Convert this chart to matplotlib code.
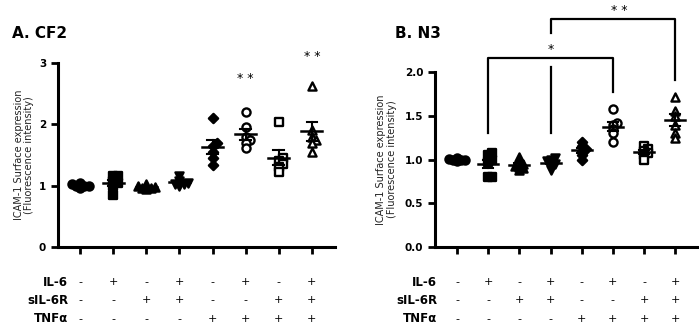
import numpy as np
import matplotlib.pyplot as plt
from matplotlib.transforms import blended_transform_factory

# ---- data ----
rows = ["IL-6", "sIL-6R", "TNF\u03b1"]
il6 = ["-", "+", "-", "+", "-", "+", "-", "+"]
sil6r = ["-", "-", "+", "+", "-", "-", "+", "+"]
tnfa = ["-", "-", "-", "-", "+", "+", "+", "+"]

cf2 = [
    [0.97, 0.99, 1.0, 1.0, 1.02, 1.05],
    [1.15, 1.15, 0.85, 1.0, 1.05, 1.08],
    [0.95, 0.97, 0.98, 1.0, 1.03, 0.96],
    [1.0, 1.03, 1.05, 1.08, 1.15, 1.02],
    [2.1, 1.7, 1.65, 1.55, 1.45, 1.33],
    [2.2, 1.95, 1.8, 1.75, 1.7, 1.62],
    [2.03, 1.45, 1.4, 1.35, 1.3, 1.22],
    [2.62, 1.9, 1.8, 1.75, 1.7, 1.55],
]
n3 = [
    [0.98, 1.0, 1.0, 1.01, 1.02, 0.99],
    [1.08, 1.05, 0.97, 0.8, 0.8, 1.0],
    [1.03, 0.95, 0.92, 0.9, 0.88, 0.93],
    [1.02, 0.98, 0.95, 0.95, 0.88, 1.0],
    [1.2, 1.15, 1.12, 1.1, 1.05, 1.0],
    [1.58, 1.42, 1.4, 1.35, 1.3, 1.2],
    [1.15, 1.12, 1.1, 1.08, 1.05, 1.0],
    [1.72, 1.55, 1.5, 1.4, 1.3, 1.25],
]

markers = ["o", "s", "^", "v", "D", "o", "s", "^"]
filled = [True, True, True, True, True, False, False, False]


def swarm(vals, ytol, step=0.13):
    """simple deterministic beeswarm offsets"""
    placed = []
    offs = [0.0] * len(vals)
    for i in np.argsort(vals):
        for k in [0, 1, -1, 2, -2]:
            dx = k * step
            if all(abs(dx - px) >= step * 0.9 or abs(vals[i] - py) >= ytol
                   for px, py in placed):
                break
        offs[i] = dx
        placed.append((dx, vals[i]))
    return offs


def draw_panel(ax, data, ytol):
    x = np.arange(1, 9)
    for i, vals in enumerate(data):
        vals = np.array(vals)
        offs = swarm(vals, ytol)
        fc = "black" if filled[i] else "white"
        ax.scatter(x[i] + np.array(offs), vals, marker=markers[i], s=34 if markers[i] != "D" else 22,
                   facecolor=fc, edgecolor="black", linewidth=1.7, zorder=3, clip_on=False)
        m = vals.mean()
        sem = vals.std(ddof=1) / np.sqrt(len(vals))
        ax.plot([x[i] - 0.32, x[i] + 0.32], [m, m], color="black", lw=1.8, zorder=4)
        ax.plot([x[i], x[i]], [m - sem, m + sem], color="black", lw=1.5, zorder=4)
        for yy in (m - sem, m + sem):
            ax.plot([x[i] - 0.16, x[i] + 0.16], [yy, yy], color="black", lw=1.5, zorder=4)
    ax.set_xticks(x)
    ax.set_xticklabels([])
    for s in ("top", "right"):
        ax.spines[s].set_visible(False)
    for s in ("left", "bottom"):
        ax.spines[s].set_linewidth(2.2)
    ax.tick_params(width=2, length=5, labelsize=7.5)
    ax.set_ylabel("ICAM-1 Surface expression\n(Fluorescence intensity)", fontsize=7,
                  color="#222222", linespacing=1.1)


def draw_table(ax, label_x):
    tr = blended_transform_factory(ax.transData, fig.transFigure)
    for r, (name, signs) in enumerate(zip(rows, [il6, sil6r, tnfa])):
        y = 1 - [282, 300, 319][r] / 326
        fig.text(label_x, y, name, ha="right", va="center", fontsize=8.5, fontweight="bold")
        for i, s in enumerate(signs):
            ax.text(i + 1, y, s, transform=tr, ha="center", va="center", fontsize=8)


fig = plt.figure(figsize=(6.99, 3.26), dpi=100)
axA = fig.add_axes([58 / 699, 1 - 247 / 326, 277 / 699, 184 / 326])
axB = fig.add_axes([435 / 699, 1 - 247 / 326, 262 / 699, 175 / 326])

draw_panel(axA, cf2, 0.06)
axA.set_ylim(0, 3)
axA.set_yticks([0, 1, 2, 3])
axA.set_xlim(0.33, 8.7)
axA.yaxis.set_label_coords(-0.085, 0.5)

draw_panel(axB, n3, 0.04)
axB.set_ylim(0, 2.0)
axB.set_yticks([0, 0.5, 1.0, 1.5, 2.0])
axB.set_yticklabels(["0.0", "0.5", "1.0", "1.5", "2.0"])
axB.set_xlim(0.29, 8.7)
axB.yaxis.set_label_coords(-0.145, 0.5)

for ax in (axA, axB):
    for t in ax.get_yticklabels():
        t.set_fontweight("bold")

draw_table(axA, 68 / 699)
draw_table(axB, 437 / 699)

fig.text(12 / 699, 1 - 33 / 326, "A. CF2", fontsize=11, fontweight="bold", va="center")
fig.text(395 / 699, 1 - 33 / 326, "B. N3", fontsize=11, fontweight="bold", va="center")

# significance marks
axA.text(6, 2.74, "* *", ha="center", va="center", fontsize=9, clip_on=False)
axA.text(8, 3.1, "* *", ha="center", va="center", fontsize=9, clip_on=False)

kw = dict(color="black", lw=1.6, clip_on=False)
axB.plot([2, 2, 6, 6], [1.30, 2.16, 2.16, 1.77], **kw)
axB.plot([4, 4], [1.30, 2.06], **kw)
axB.text(4, 2.26, "*", ha="center", va="center", fontsize=9, clip_on=False)
axB.plot([4, 4, 8, 8], [2.45, 2.61, 2.61, 1.91], **kw)
axB.text(6.2, 2.70, "* *", ha="center", va="center", fontsize=9, clip_on=False)

fig.savefig("out.png", dpi=100)
